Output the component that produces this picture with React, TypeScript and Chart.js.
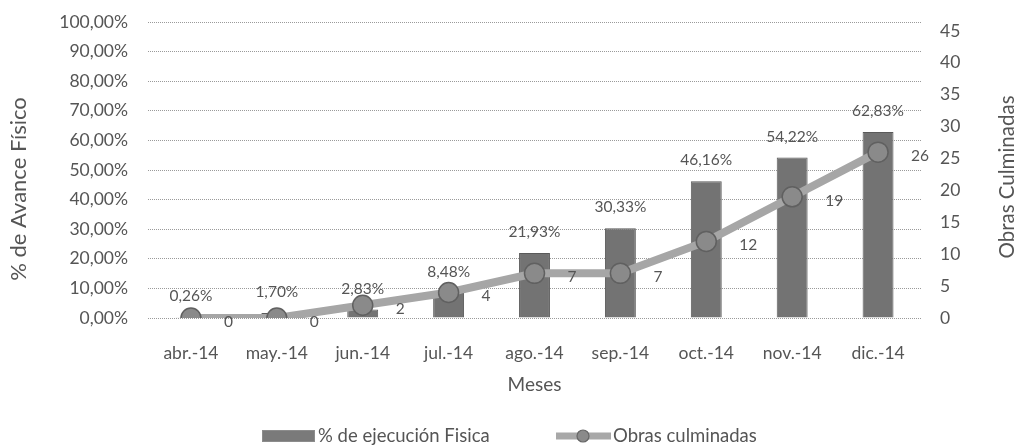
import React, { useEffect, useRef } from "react";
import { Chart, registerables } from "chart.js";

Chart.register(...registerables);

const months = ["abr.-14", "may.-14", "jun.-14", "jul.-14", "ago.-14", "sep.-14", "oct.-14", "nov.-14", "dic.-14"];
const ejecucionFisica = [0.26, 1.7, 2.83, 8.48, 21.93, 30.33, 46.16, 54.22, 62.83];
const obrasCulminadas = [0, 0, 2, 4, 7, 7, 12, 19, 26];
const leftTicksMax = 100;
const rightTicksMax = 45;

const FONT = "Lato, 'Open Sans', sans-serif";
const TEXT = "#555555";

const fmtPct = (v: number) => v.toFixed(2).replace(".", ",") + "%";

const labelPlugin = {
  id: "customLabels",
  afterDatasetsDraw(chart: any) {
    const ctx = chart.ctx;
    ctx.save();
    ctx.fillStyle = TEXT;
    ctx.font = `15.5px ${FONT}`;
    const barMeta = chart.getDatasetMeta(0);
    barMeta.data.forEach((el: any, i: number) => {
      ctx.textAlign = "center";
      ctx.textBaseline = "middle";
      ctx.fillText(fmtPct(ejecucionFisica[i]), el.x, el.y - 21);
    });
    const lineMeta = chart.getDatasetMeta(1);
    lineMeta.data.forEach((el: any, i: number) => {
      ctx.textAlign = "left";
      ctx.textBaseline = "middle";
      ctx.fillText(String(obrasCulminadas[i]), el.x + 33, el.y + 4);
    });
    ctx.restore();
  },
  afterDraw(chart: any) {
    const ctx = chart.ctx;
    const ca = chart.chartArea;
    ctx.save();
    ctx.fillStyle = TEXT;
    ctx.font = `22px ${FONT}`;
    ctx.textAlign = "center";
    ctx.textBaseline = "middle";
    ctx.save();
    ctx.translate(19, 189);
    ctx.rotate(-Math.PI / 2);
    ctx.fillText("% de Avance Físico", 0, 0);
    ctx.restore();
    ctx.font = `20.5px ${FONT}`;
    ctx.save();
    ctx.translate(1007, 177);
    ctx.rotate(-Math.PI / 2);
    ctx.fillText("Obras Culminadas", 0, 0);
    ctx.restore();
    ctx.font = `19px ${FONT}`;
    ctx.fillText("Meses", (ca.left + ca.right) / 2, 385);
    const ly = 436;
    ctx.fillStyle = "#7a7a7a";
    ctx.fillRect(262, 430, 53, 12);
    ctx.strokeStyle = "#8c8c8c";
    ctx.lineWidth = 1;
    ctx.strokeRect(262.5, 430.5, 52, 11);
    ctx.fillStyle = TEXT;
    ctx.font = `18.5px ${FONT}`;
    ctx.textAlign = "left";
    ctx.fillText("% de ejecución Fisica", 318, ly);
    ctx.strokeStyle = "#a8a8a8";
    ctx.lineWidth = 7;
    ctx.beginPath();
    ctx.moveTo(556, ly);
    ctx.lineTo(611, ly);
    ctx.stroke();
    ctx.beginPath();
    ctx.arc(583, ly, 6, 0, Math.PI * 2);
    ctx.fillStyle = "#8a8a8a";
    ctx.fill();
    ctx.lineWidth = 1.2;
    ctx.strokeStyle = "#666";
    ctx.stroke();
    ctx.fillStyle = TEXT;
    ctx.fillText("Obras culminadas", 613, ly);
    ctx.restore();
  },
};

export default function App() {
  const ref = useRef<HTMLCanvasElement | null>(null);
  useEffect(() => {
    document.body.style.margin = "0";
    const canvas = ref.current;
    if (!canvas) return;
    const chart = new Chart(canvas, {
      type: "bar",
      data: {
        labels: months,
        datasets: [
          {
            type: "bar",
            label: "% de ejecución Fisica",
            data: ejecucionFisica,
            yAxisID: "y",
            backgroundColor: "#737373",
            borderColor: "#5a5a5a",
            borderWidth: 1,
            categoryPercentage: 1,
            barPercentage: 0.36,
            order: 1,
          },
          {
            type: "line",
            label: "Obras culminadas",
            data: obrasCulminadas,
            yAxisID: "y1",
            borderColor: "#a6a6a6",
            borderWidth: 8,
            pointRadius: 10,
            pointBackgroundColor: "#8a8a8a",
            pointBorderColor: "#606060",
            pointBorderWidth: 1.5,
            tension: 0,
            order: 0,
          },
        ],
      },
      options: {
        responsive: false,
        animation: false,
        layout: { padding: { top: 22, left: 0, right: 0, bottom: 0 } },
        plugins: {
          legend: { display: false },
          tooltip: { enabled: false },
        },
        scales: {
          x: {
            type: "category",
            offset: true,
            grid: { display: false },
            border: { display: false },
            ticks: {
              color: TEXT,
              font: { family: FONT, size: 17.5 },
              padding: 17,
              maxRotation: 0,
            },
            afterFit: (s: any) => {
              s.height = 127;
            },
          },
          y: {
            position: "left",
            min: 0,
            max: leftTicksMax,
            ticks: {
              stepSize: 10,
              color: TEXT,
              font: { family: FONT, size: 17.5 },
              padding: 2,
              callback: (v: any) => fmtPct(Number(v)),
            },
            grid: {
              color: "#9a9a9a",
              lineWidth: 1,
              drawTicks: true,
              tickLength: 18,
              tickColor: "rgba(0,0,0,0)",
              borderDash: [1, 1],
            } as any,
            border: { display: false, dash: [1, 1] },
            afterFit: (s: any) => {
              s.width = 148;
            },
          },
          y1: {
            position: "right",
            min: 0,
            max: 46.4,
            ticks: {
              stepSize: 5,
              includeBounds: false,
              color: TEXT,
              font: { family: FONT, size: 17.5 },
              padding: 2,
            },
            afterBuildTicks: (s: any) => {
              s.ticks = s.ticks.filter((t: any) => t.value <= rightTicksMax);
            },
            grid: {
              display: true,
              drawOnChartArea: false,
              drawTicks: true,
              tickLength: 17,
              tickColor: "rgba(0,0,0,0)",
            },
            border: { display: false },
            afterFit: (s: any) => {
              s.width = 98;
            },
          },
        },
      },
      plugins: [labelPlugin],
    } as any);
    return () => chart.destroy();
  }, []);
  return (
    <div style={{ width: 1019, height: 445, background: "#fff" }}>
      <canvas ref={ref} width={1019} height={445} style={{ display: "block" }} />
    </div>
  );
}
